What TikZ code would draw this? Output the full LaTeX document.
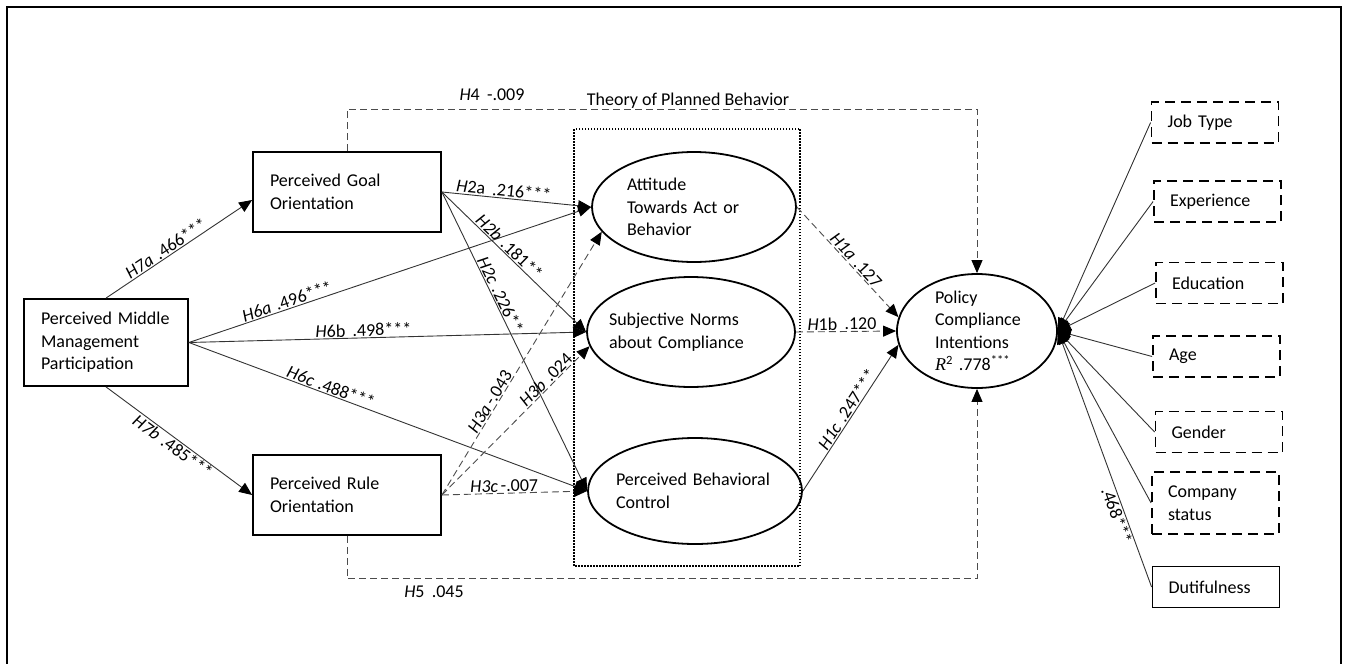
\documentclass[tikz,border=0pt]{standalone}
\usepackage{fontspec}
\setmainfont{Carlito}
\newfontfamily\serifit{Liberation Serif}
\usetikzlibrary{arrows.meta,shapes.geometric,calc}
\newcommand{\HL}[2]{\textit{H}#1\hspace{0.4em}#2}
\newcommand{\HI}[2]{\textit{H#1}\hspace{0.3em}#2}
\begin{document}
\begin{tikzpicture}[x=1pt,y=-1pt,
  font=\fontsize{18}{22.5}\selectfont,
  box/.style={draw, line width=1.8pt, rectangle, align=left, inner xsep=17pt, inner ysep=0pt},
  ctrl/.style={draw, line width=1.8pt, dash pattern=on 10pt off 6pt, rectangle, align=left,
    minimum width=127pt, minimum height=41pt, text width=95pt, inner xsep=16pt, inner ysep=0pt},
  ell/.style={draw, ellipse, line width=1.8pt, align=left, inner sep=0pt},
  conn/.style={draw=black!80, line width=0.9pt},
  dconn/.style={conn, draw=black!70, dash pattern=on 7pt off 4pt},
  arr/.style={-{Triangle[length=13pt,width=11pt,color=black]}},
  lab/.style={inner sep=1pt, text=black, font=\fontsize{18}{20}\selectfont}
]
\useasboundingbox (0,0) rectangle (1347,664);
% frame
\draw[line width=2pt] (7,664) -- (7,7) -- (1341,7) -- (1341,664);
% dotted TPB box
\draw[line width=1.5pt, dash pattern=on 1.5pt off 1.5pt] (574,129) rectangle (800,566);
\node[inner sep=0pt] (tpb) at (688,101) {Theory of Planned Behavior};

% boxes
\node[box, minimum width=164pt, minimum height=87pt, text width=130pt] (pmmp) at (106,342.5) {Perceived Middle\\Management\\Participation};
\node[box, minimum width=188pt, minimum height=80pt, text width=154pt] (goal) at (347,192) {Perceived Goal\\Orientation};
\node[box, minimum width=188pt, minimum height=80pt, text width=154pt] (rule) at (347,495) {Perceived Rule\\Orientation};

% ellipses
\node[ell, minimum width=204pt, minimum height=110pt, text width=134pt] (att) at (694,207) {Attitude\\Towards Act or\\Behavior};
\node[ell, minimum width=208pt, minimum height=110pt, text width=164pt, inner xsep=-25pt] (sn) at (691,332) {Subjective Norms\\about Compliance};
\node[ell, minimum width=214pt, minimum height=106pt, text width=158pt, inner xsep=-25pt] (pbc) at (695,491) {Perceived Behavioral\\Control};
\node[ell, minimum width=160pt, minimum height=114pt, text width=84pt] (pci) at (977,331) {Policy\\Compliance\\Intentions\\{\serifit\itshape R}\textsuperscript{2} .778\textsuperscript{***}};

% control variables
\node[ctrl] (job) at (1215,122.5) {Job Type};
\node[ctrl] (exp) at (1217.5,201.5) {Experience};
\node[ctrl] (edu) at (1219.5,283) {Education};
\node[ctrl] (age) at (1216.5,356.5) {Age};
\node[ctrl] (gen) at (1219,432) {Gender};
\node[ctrl, minimum height=62pt] (comp) at (1215.5,503) {Company\\status};
\node[ctrl, solid] (dut) at (1216,587) {Dutifulness};

% H7
\draw[conn, arr] (pmmp.north) -- ($(goal.west)+(0,8)$) node[lab, pos=0.44, sloped, above] {\HI{7a}{.466***}};
\draw[conn, arr] (pmmp.south) -- (rule.west) node[lab, pos=0.49, sloped, below] {\HI{7b}{.485***}};
% H6
\draw[conn, arr] (pmmp.east) -- (att.west) node[lab, pos=0.25, sloped, above] {\HI{6a}{.496***}};
\draw[conn, arr] (pmmp.east) -- (sn.west) node[lab, pos=0.44, sloped, above] {\HL{6b}{.498***}};
\draw[conn, arr] (pmmp.east) -- (pbc.west) node[lab, pos=0.35, sloped, above] {\HI{6c}{.488***}};
% H2
\draw[conn, arr] (goal.east) -- (att.west) node[lab, pos=0.41, sloped, above] {\HL{2a}{.216***}};
\draw[conn, arr] (goal.east) -- (sn.west) node[lab, pos=0.43, sloped, above] {\HI{2b}{.181**}};
\draw[conn, arr] (goal.east) -- (pbc.west) node[lab, pos=0.355, sloped, above] {\HI{2c}{.226**}};
% H3
\draw[dconn, arr] (rule.east) -- (att.195) node[lab, pos=0.34, sloped, above] {\textit{H3a}\hspace{0.15em}-.043};
\draw[dconn, arr] (rule.east) -- (sn.188) node[lab, pos=0.74, sloped, above] {\HI{3b}{.024}};
\draw[dconn, arr] (rule.east) -- (pbc.west) node[lab, pos=0.43, sloped, above] {\textit{H3c}\hspace{0.15em}-.007};
% H1
\draw[dconn, arr] (att.east) -- (pci.170) node[lab, pos=0.53, sloped, above] {\HI{1a}{.127}};
\draw[dconn, arr] (sn.east) -- (pci.west) node[lab, pos=0.46, sloped, above] {\HL{1b}{.120}};
\draw[conn, arr] (pbc.east) -- (pci.190) node[lab, pos=0.53, sloped, above] {\HI{1c}{.247***}};
% H4 / H5
\draw[dconn, arr] (goal.north) -- ++(0,-42) -| (pci.north);
\node[lab] (h4) at (492,95) {\HL{4}{-.009}};
\draw[dconn, arr] (rule.south) -- ++(0,43) -| (pci.south);
\node[lab] (h5) at (434,592) {\HL{5}{.045}};

% controls
\foreach \c in {job,exp,edu,age,gen,comp}
  \draw[conn, arr] (\c.west) -- (pci.east);
\draw[conn, arr] (dut.west) -- (pci.east) node[lab, pos=0.29, sloped, below] {.468***};
\end{tikzpicture}
\end{document}
